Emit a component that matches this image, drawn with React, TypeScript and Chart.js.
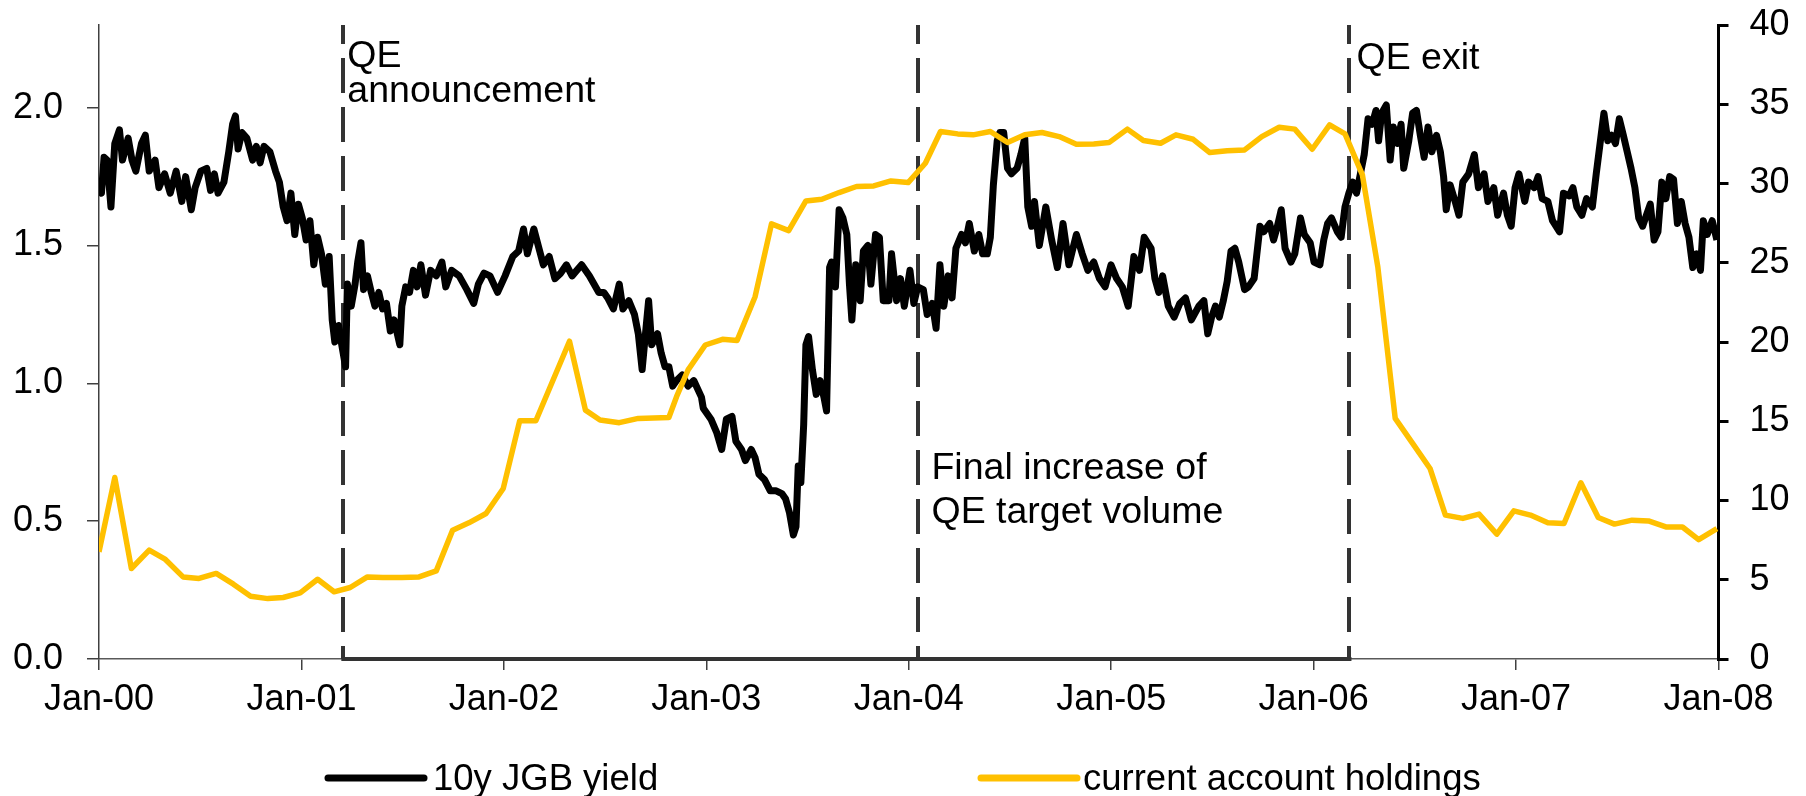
import React, { useEffect, useRef } from 'react';
import { Chart, registerables } from 'chart.js';

Chart.register(...registerables);

// ---------- data ----------
// x values are years after Jan-2000 (decimal years)
const xTickValues = [2000, 2001, 2002, 2003, 2004, 2005, 2006, 2007, 2008];
const xTickLabels = ['Jan-00', 'Jan-01', 'Jan-02', 'Jan-03', 'Jan-04', 'Jan-05', 'Jan-06', 'Jan-07', 'Jan-08'];
const leftTickValues = [0, 0.5, 1.0, 1.5, 2.0];
const leftTickLabels = ['0.0', '0.5', '1.0', '1.5', '2.0'];
const rightTickValues = [0, 5, 10, 15, 20, 25, 30, 35, 40];
const rightTickLabels = ['0', '5', '10', '15', '20', '25', '30', '35', '40'];

// 10y JGB yield (%), [years since Jan-00, value]
const jgbYield: [number, number][] = [
  [0.000, 1.70], [0.012, 1.69], [0.025, 1.82], [0.040, 1.81], [0.059, 1.64], [0.078, 1.87], [0.101, 1.92], [0.116, 1.81],
  [0.144, 1.89], [0.163, 1.81], [0.182, 1.77], [0.210, 1.87], [0.229, 1.90], [0.248, 1.77], [0.277, 1.81], [0.296, 1.71],
  [0.324, 1.76], [0.352, 1.69], [0.381, 1.77], [0.409, 1.66], [0.428, 1.75], [0.456, 1.63], [0.475, 1.71], [0.503, 1.77],
  [0.532, 1.78], [0.551, 1.70], [0.570, 1.76], [0.588, 1.69], [0.617, 1.73], [0.641, 1.84], [0.660, 1.94], [0.674, 1.97],
  [0.687, 1.85], [0.706, 1.91], [0.730, 1.89], [0.759, 1.81], [0.777, 1.86], [0.796, 1.80], [0.815, 1.86], [0.844, 1.84],
  [0.872, 1.77], [0.891, 1.73], [0.910, 1.64], [0.929, 1.59], [0.948, 1.69], [0.967, 1.54], [0.985, 1.65], [1.004, 1.60],
  [1.023, 1.52], [1.042, 1.59], [1.061, 1.43], [1.080, 1.53], [1.099, 1.47], [1.118, 1.36], [1.137, 1.46], [1.152, 1.23],
  [1.165, 1.15], [1.184, 1.21], [1.199, 1.14], [1.218, 1.06], [1.227, 1.36], [1.246, 1.28], [1.265, 1.36], [1.278, 1.44],
  [1.294, 1.51], [1.307, 1.34], [1.326, 1.39], [1.345, 1.33], [1.363, 1.28], [1.382, 1.33], [1.401, 1.27], [1.420, 1.29],
  [1.439, 1.19], [1.458, 1.23], [1.486, 1.14], [1.496, 1.28], [1.515, 1.35], [1.534, 1.33], [1.553, 1.41], [1.571, 1.35],
  [1.590, 1.43], [1.613, 1.32], [1.638, 1.41], [1.666, 1.39], [1.694, 1.44], [1.713, 1.35], [1.742, 1.41], [1.779, 1.39],
  [1.817, 1.34], [1.851, 1.29], [1.874, 1.36], [1.902, 1.40], [1.931, 1.39], [1.969, 1.33], [2.006, 1.39], [2.044, 1.46],
  [2.073, 1.48], [2.097, 1.56], [2.116, 1.47], [2.148, 1.56], [2.177, 1.48], [2.195, 1.43], [2.224, 1.46], [2.252, 1.38],
  [2.281, 1.40], [2.309, 1.43], [2.337, 1.39], [2.384, 1.43], [2.422, 1.39], [2.469, 1.33],
  [2.494, 1.33], [2.513, 1.31], [2.541, 1.27], [2.570, 1.36], [2.588, 1.27], [2.617, 1.30], [2.645, 1.25], [2.664, 1.18],
  [2.683, 1.05], [2.702, 1.20], [2.715, 1.30], [2.730, 1.14], [2.759, 1.18], [2.777, 1.11], [2.796, 1.06], [2.815, 1.06],
  [2.834, 0.99], [2.853, 1.01], [2.881, 1.03], [2.910, 0.99], [2.938, 1.01], [2.976, 0.95], [2.985, 0.91], [3.023, 0.87],
  [3.052, 0.82], [3.076, 0.76], [3.099, 0.87], [3.127, 0.88], [3.146, 0.79], [3.174, 0.76], [3.193, 0.72], [3.222, 0.76],
  [3.241, 0.73], [3.260, 0.67], [3.288, 0.65], [3.316, 0.61], [3.345, 0.61], [3.373, 0.60], [3.392, 0.58], [3.411, 0.53],
  [3.430, 0.45], [3.443, 0.48], [3.454, 0.70], [3.467, 0.64], [3.481, 0.85], [3.492, 1.14], [3.505, 1.17], [3.524, 1.05],
  [3.543, 0.96], [3.562, 1.01], [3.581, 0.95], [3.594, 0.90], [3.609, 1.42], [3.619, 1.44], [3.638, 1.35], [3.656, 1.63],
  [3.675, 1.60], [3.694, 1.54], [3.707, 1.36], [3.719, 1.23], [3.738, 1.43], [3.760, 1.30], [3.776, 1.48], [3.798, 1.50],
  [3.813, 1.36], [3.836, 1.54], [3.855, 1.53], [3.874, 1.30], [3.902, 1.30], [3.915, 1.47], [3.940, 1.30], [3.959, 1.38],
  [3.978, 1.28], [4.006, 1.41], [4.025, 1.29], [4.044, 1.35], [4.072, 1.34], [4.091, 1.25], [4.116, 1.29], [4.135, 1.20],
  [4.154, 1.43], [4.173, 1.28], [4.195, 1.39], [4.214, 1.31], [4.233, 1.49], [4.261, 1.54], [4.280, 1.51], [4.299, 1.58],
  [4.324, 1.48], [4.346, 1.54], [4.365, 1.47], [4.388, 1.47], [4.403, 1.53], [4.418, 1.72], [4.437, 1.88], [4.450, 1.91],
  [4.469, 1.91], [4.488, 1.78], [4.507, 1.76], [4.535, 1.78], [4.554, 1.83], [4.573, 1.89], [4.588, 1.64], [4.607, 1.57],
  [4.621, 1.66], [4.645, 1.50], [4.677, 1.64], [4.706, 1.52], [4.734, 1.42], [4.762, 1.58], [4.791, 1.43], [4.828, 1.54],
  [4.857, 1.47], [4.885, 1.41], [4.914, 1.44], [4.942, 1.38], [4.970, 1.35], [4.999, 1.43], [5.027, 1.38], [5.055, 1.35],
  [5.084, 1.28], [5.112, 1.46], [5.140, 1.41], [5.163, 1.53], [5.197, 1.49], [5.216, 1.38], [5.235, 1.33], [5.254, 1.39],
  [5.282, 1.28], [5.311, 1.24], [5.339, 1.29], [5.367, 1.31], [5.396, 1.23], [5.433, 1.28],
  [5.458, 1.30], [5.477, 1.18], [5.496, 1.24], [5.515, 1.28], [5.534, 1.24], [5.554, 1.30], [5.573, 1.37], [5.592, 1.48],
  [5.611, 1.49], [5.630, 1.44], [5.659, 1.34], [5.678, 1.35], [5.706, 1.38], [5.735, 1.57], [5.754, 1.55], [5.783, 1.58],
  [5.802, 1.52], [5.821, 1.57], [5.840, 1.63], [5.859, 1.49], [5.888, 1.44], [5.907, 1.47], [5.935, 1.60], [5.954, 1.54],
  [5.983, 1.51], [6.002, 1.44], [6.031, 1.43], [6.050, 1.52], [6.069, 1.58], [6.088, 1.60], [6.117, 1.55], [6.136, 1.53],
  [6.155, 1.64], [6.174, 1.69], [6.193, 1.73], [6.212, 1.69], [6.231, 1.76], [6.250, 1.83], [6.269, 1.96], [6.289, 1.94],
  [6.308, 1.99], [6.321, 1.88], [6.336, 1.98], [6.359, 2.01], [6.378, 1.81], [6.394, 1.93], [6.413, 1.87], [6.432, 1.94],
  [6.445, 1.78], [6.470, 1.88], [6.489, 1.98], [6.508, 1.99], [6.527, 1.90], [6.546, 1.82], [6.565, 1.93], [6.584, 1.84],
  [6.607, 1.90], [6.626, 1.84], [6.642, 1.75], [6.655, 1.63], [6.674, 1.72], [6.699, 1.66], [6.718, 1.61], [6.737, 1.73],
  [6.766, 1.76], [6.794, 1.83], [6.814, 1.71], [6.842, 1.76], [6.861, 1.66], [6.890, 1.71], [6.909, 1.61], [6.938, 1.69],
  [6.957, 1.61], [6.976, 1.57], [6.995, 1.71], [7.014, 1.76], [7.043, 1.66], [7.062, 1.73], [7.090, 1.71], [7.109, 1.75],
  [7.129, 1.67], [7.157, 1.66], [7.180, 1.59], [7.215, 1.55], [7.234, 1.69], [7.262, 1.68], [7.281, 1.71], [7.300, 1.64],
  [7.325, 1.61], [7.348, 1.67], [7.377, 1.64], [7.396, 1.76], [7.415, 1.87], [7.434, 1.98], [7.453, 1.88], [7.472, 1.90],
  [7.491, 1.87], [7.510, 1.96], [7.530, 1.90], [7.549, 1.84], [7.568, 1.78], [7.587, 1.71], [7.606, 1.60], [7.625, 1.57],
  [7.644, 1.61], [7.663, 1.65], [7.682, 1.52], [7.701, 1.55], [7.720, 1.73], [7.740, 1.67], [7.759, 1.75], [7.778, 1.74],
  [7.797, 1.58], [7.816, 1.66], [7.835, 1.58], [7.854, 1.53], [7.873, 1.42], [7.892, 1.47], [7.911, 1.41], [7.925, 1.59],
  [7.944, 1.54], [7.969, 1.59], [7.992, 1.52],
];

// BoJ current account holdings (tn yen), [years since Jan-00, value]
const currentAccount: [number, number][] = [
  [0.000, 6.76], [0.078, 11.45], [0.160, 5.71], [0.248, 6.87], [0.328, 6.28], [0.415, 5.18], [0.494, 5.08], [0.579, 5.40],
  [0.664, 4.72], [0.749, 3.96], [0.834, 3.81], [0.910, 3.88], [0.994, 4.17], [1.080, 5.03], [1.161, 4.24], [1.241, 4.51],
  [1.326, 5.18], [1.401, 5.14], [1.496, 5.14], [1.581, 5.18], [1.666, 5.56], [1.747, 8.13], [1.827, 8.59], [1.912, 9.18],
  [1.997, 10.76], [2.078, 15.03], [2.158, 15.03], [2.324, 20.05], [2.403, 15.70], [2.475, 15.08], [2.570, 14.91], [2.664, 15.18],
  [2.815, 15.24], [2.853, 16.55], [2.910, 18.24], [2.995, 19.81], [3.080, 20.17], [3.152, 20.09], [3.241, 22.86], [3.322, 27.45],
  [3.407, 27.03], [3.492, 28.90], [3.571, 29.01], [3.656, 29.43], [3.742, 29.81], [3.827, 29.85], [3.912, 30.16], [3.997, 30.06],
  [4.082, 31.28], [4.157, 33.28], [4.242, 33.13], [4.318, 33.07], [4.403, 33.28], [4.488, 32.59], [4.573, 33.07], [4.658, 33.22],
  [4.743, 32.96], [4.828, 32.47], [4.914, 32.49], [4.989, 32.58], [5.080, 33.43], [5.159, 32.71], [5.244, 32.54], [5.320, 33.07],
  [5.405, 32.79], [5.487, 31.95], [5.573, 32.07], [5.659, 32.12], [5.744, 32.96], [5.830, 33.55], [5.907, 33.43], [5.993, 32.16],
  [6.079, 33.70], [6.155, 33.13], [6.241, 30.54], [6.317, 24.75], [6.403, 15.18], [6.489, 13.60], [6.575, 12.02], [6.651, 9.08],
  [6.737, 8.87], [6.817, 9.14], [6.905, 7.88], [6.989, 9.35], [7.071, 9.08], [7.157, 8.59], [7.237, 8.55], [7.320, 11.12],
  [7.406, 8.93], [7.486, 8.51], [7.573, 8.76], [7.654, 8.71], [7.740, 8.33], [7.822, 8.33], [7.902, 7.53], [7.992, 8.23],
];

// policy events (decimal year) and their annotation lines
const eventDates = [2001.207, 2004.048, 2006.177];
const eventTexts = [['QE', 'announcement'], ['Final increase of', 'QE target volume'], ['QE exit']];
const seriesNames = ['10y JGB yield', 'current account holdings'];

// ---------- styles ----------
const FONT = '"Liberation Sans", Arial, sans-serif';
const FONT_SIZE = 36;
const NOTE_FONT_SIZE = 37.5;
const LEGEND_FONT_SIZE = 36.5;
const BLACK = '#000000';
const GOLD = '#FFC000';
const DARK = '#333333';
const annotationStyle = [
  { dx: 4, baselines: [67, 102] },
  { dx: 13, baselines: [479, 523] },
  { dx: 7, baselines: [69] },
];
const legendStyle = [
  { x0: 328, x1: 424, tx: 433, color: BLACK },
  { x0: 981, x1: 1077, tx: 1083, color: GOLD },
];

const overlayPlugin = {
  id: 'qeOverlay',
  beforeDatasetsDraw(chart: any) {
    const { ctx, chartArea, scales } = chart;
    ctx.save();
    ctx.strokeStyle = DARK;
    ctx.lineWidth = 4;
    ctx.setLineDash([35, 14]);
    ctx.lineDashOffset = 16;
    for (const d of eventDates) {
      const px = Math.round(scales.x.getPixelForValue(d));
      ctx.beginPath();
      ctx.moveTo(px, chartArea.top);
      ctx.lineTo(px, chartArea.bottom);
      ctx.stroke();
    }
    ctx.restore();
  },
  afterDraw(chart: any) {
    const { ctx, chartArea, scales } = chart;
    ctx.save();
    // QE period bar on the x axis
    const xa = scales.x.getPixelForValue(eventDates[0]);
    const xb = scales.x.getPixelForValue(eventDates[2]);
    ctx.strokeStyle = DARK;
    ctx.lineWidth = 4;
    ctx.beginPath();
    ctx.moveTo(xa - 2, chartArea.bottom);
    ctx.lineTo(xb + 2, chartArea.bottom);
    ctx.stroke();

    // annotations
    ctx.fillStyle = BLACK;
    ctx.font = `${NOTE_FONT_SIZE}px ${FONT}`;
    ctx.textAlign = 'left';
    ctx.textBaseline = 'alphabetic';
    eventDates.forEach((d, i) => {
      const px = scales.x.getPixelForValue(d);
      const st = annotationStyle[i];
      eventTexts[i].forEach((line, j) => {
        ctx.fillText(line, px + st.dx, st.baselines[j]);
      });
    });

    // legend
    ctx.font = `${LEGEND_FONT_SIZE}px ${FONT}`;
    seriesNames.forEach((name, i) => {
      const st = legendStyle[i];
      ctx.strokeStyle = st.color;
      ctx.lineWidth = 7;
      ctx.lineCap = 'round';
      ctx.beginPath();
      ctx.moveTo(st.x0, 778);
      ctx.lineTo(st.x1, 778);
      ctx.stroke();
      ctx.fillStyle = BLACK;
      ctx.fillText(name, st.tx, 790);
    });
    ctx.restore();
  },
};

const noVerticalPad = (s: any) => {
  s.paddingTop = 0;
  s.paddingBottom = 0;
};

export default function App() {
  const canvasRef = useRef<HTMLCanvasElement | null>(null);

  useEffect(() => {
    const canvas = canvasRef.current;
    if (!canvas) return;
    const font = { family: FONT, size: FONT_SIZE };
    const chart = new Chart(canvas, {
      type: 'line',
      data: {
        datasets: [
          {
            label: seriesNames[1],
            data: currentAccount.map(([t, v]) => ({ x: 2000 + t, y: v })),
            yAxisID: 'y1',
            borderColor: GOLD,
            borderWidth: 5.5,
            pointRadius: 0,
            tension: 0,
            borderJoinStyle: 'round',
            order: 0,
          },
          {
            label: seriesNames[0],
            data: jgbYield.map(([t, v]) => ({ x: 2000 + t, y: v })),
            yAxisID: 'y',
            borderColor: BLACK,
            borderWidth: 7,
            pointRadius: 0,
            tension: 0,
            borderJoinStyle: 'round',
            order: 1,
          },
        ],
      },
      options: {
        animation: false,
        responsive: false,
        devicePixelRatio: 1,
        layout: { padding: { top: 25, left: 0, right: 0, bottom: 0 }, autoPadding: false },
        plugins: { legend: { display: false }, tooltip: { enabled: false } },
        scales: {
          x: {
            type: 'linear',
            position: 'bottom',
            min: 2000,
            max: 2008,
            afterBuildTicks: (s: any) => {
              s.ticks = xTickValues.map((v) => ({ value: v }));
            },
            ticks: {
              callback: (v: any) => xTickLabels[xTickValues.indexOf(Math.round(Number(v)))],
              font,
              color: BLACK,
              padding: 8,
              maxRotation: 0,
              autoSkip: false,
            },
            grid: { drawOnChartArea: false, drawTicks: true, tickLength: 11, color: '#404040', lineWidth: 1.5 },
            border: { display: true, color: '#595959', width: 1.5 },
            afterFit: (s: any) => {
              s.height = 137;
              s.paddingLeft = 0;
              s.paddingRight = 0;
            },
          },
          y: {
            type: 'linear',
            position: 'left',
            min: 0,
            max: 2.3,
            afterBuildTicks: (s: any) => {
              s.ticks = leftTickValues.map((v) => ({ value: v }));
            },
            ticks: {
              callback: (v: any) => leftTickLabels[leftTickValues.indexOf(Number(v))],
              font,
              color: BLACK,
              padding: 24,
            },
            grid: { drawOnChartArea: false, tickLength: 12, color: '#404040', lineWidth: 1.5 },
            border: { display: true, color: '#404040', width: 1.5 },
            afterFit: (s: any) => {
              s.width = 99;
              noVerticalPad(s);
            },
          },
          y1: {
            type: 'linear',
            position: 'right',
            min: 0,
            max: 40,
            afterBuildTicks: (s: any) => {
              s.ticks = rightTickValues.map((v) => ({ value: v }));
            },
            ticks: {
              callback: (v: any) => rightTickLabels[rightTickValues.indexOf(Number(v))],
              font,
              color: BLACK,
              padding: 21,
            },
            grid: { drawOnChartArea: false, tickLength: 10, color: BLACK, lineWidth: 3 },
            border: { display: true, color: BLACK, width: 3 },
            afterFit: (s: any) => {
              s.width = 87.5;
              noVerticalPad(s);
            },
          },
        },
      },
      plugins: [overlayPlugin],
    } as any);
    return () => chart.destroy();
  }, []);

  return (
    <div style={{ position: 'absolute', left: 0, top: 0, width: 1806, height: 796, background: '#fff' }}>
      <canvas ref={canvasRef} width={1806} height={796} style={{ display: 'block' }} />
    </div>
  );
}
